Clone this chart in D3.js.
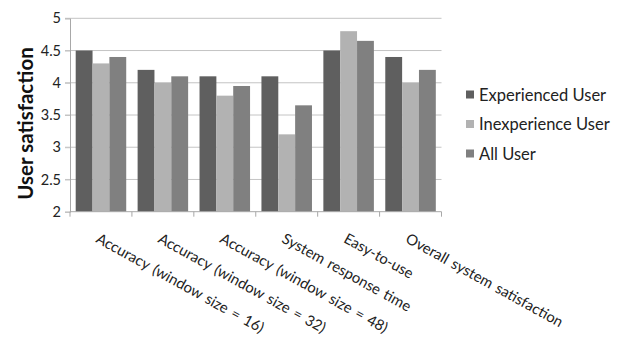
<!DOCTYPE html>
<html><head><meta charset="utf-8">
<script src="https://cdn.jsdelivr.net/npm/d3@7"></script>
<style>body{margin:0;background:#fff}svg{display:block}</style>
</head><body><svg id="c" width="622" height="338"></svg>
<script>
const categories = ["Accuracy (window size = 16)","Accuracy (window size = 32)","Accuracy (window size = 48)","System response time","Easy-to-use","Overall system satisfaction"];
const seriesNames = ["Experienced User","Inexperience User","All User"];
const experienced = [4.5,4.2,4.1,4.1,4.5,4.4];
const inexperienced = [4.3,4.0,3.8,3.2,4.8,4.0];
const allUser = [4.4,4.1,3.95,3.65,4.65,4.2];
const yTicks = [2,2.5,3,3.5,4,4.5,5];
const colors = ["#5f5f5f","#b2b2b2","#808080"];
const series = [experienced, inexperienced, allUser];

const svg = d3.select("#c");
const font = "Lato, 'Open Sans', sans-serif";
const x0 = d3.scaleBand().domain(categories).range([70,441.5]).paddingInner(0.184).paddingOuter(0.092);
const x1 = d3.scaleBand().domain(seriesNames).range([0,x0.bandwidth()]);
const y = d3.scaleLinear().domain([2,5]).range([211.7,18.3]);

// gridlines
svg.append("g").selectAll("line").data(yTicks.filter(d=>d>2)).join("line")
  .attr("x1",65).attr("x2",441.5).attr("y1",d=>y(d)).attr("y2",d=>y(d))
  .attr("stroke","#c4c4c4").attr("stroke-width",1);

// bars
const g = svg.append("g");
categories.forEach((c,i)=>{
  series.forEach((s,j)=>{
    g.append("rect").attr("x",x0(c)+x1(seriesNames[j])).attr("width",x1.bandwidth())
      .attr("y",y(s[i])).attr("height",y(2)-y(s[i])).attr("fill",colors[j]);
  });
});

// y axis
const ya = svg.append("g").attr("transform","translate(70,0)")
  .call(d3.axisLeft(y).tickValues(yTicks).tickSize(5).tickPadding(4).tickFormat(d3.format("")));
ya.select(".domain").attr("stroke","#a8a8a8");
ya.selectAll(".tick line").attr("stroke","#c4c4c4");
ya.selectAll("text").attr("font-family",font).attr("font-size",14.5).attr("fill","#222");

// x axis
const step = x0.step();
const bounds = d3.range(categories.length+1).map(i=>70+i*step);
svg.append("line").attr("x1",70).attr("x2",441.5).attr("y1",y(2)).attr("y2",y(2)).attr("stroke","#a8a8a8");
svg.append("g").selectAll("line").data(bounds).join("line")
  .attr("x1",d=>d).attr("x2",d=>d).attr("y1",y(2)).attr("y2",y(2)+5).attr("stroke","#a8a8a8");

svg.append("g").selectAll("text").data(categories).join("text")
  .attr("transform",d=>`translate(${x0(d)+x0.bandwidth()/2-6},${y(2)+30}) rotate(29)`)
  .attr("font-family",font).attr("font-size",14.8).attr("word-spacing","1.5px").attr("fill","#222")
  .text(d=>d);

// y title
svg.append("text").attr("transform","translate(33,123.5) rotate(-90)")
  .attr("text-anchor","middle").attr("font-family",font).attr("font-weight","bold")
  .attr("font-size",20.5).attr("fill","#111").text("User satisfaction");

// legend
const lg = svg.append("g");
seriesNames.forEach((n,j)=>{
  const cy = 94.5 + j*29.5;
  lg.append("rect").attr("x",466).attr("y",cy-4).attr("width",8).attr("height",8).attr("fill",colors[j]);
  lg.append("text").attr("x",479).attr("y",cy+6).attr("font-family",font).attr("font-size",16.5).attr("fill","#222").text(n);
});
</script></body></html>
